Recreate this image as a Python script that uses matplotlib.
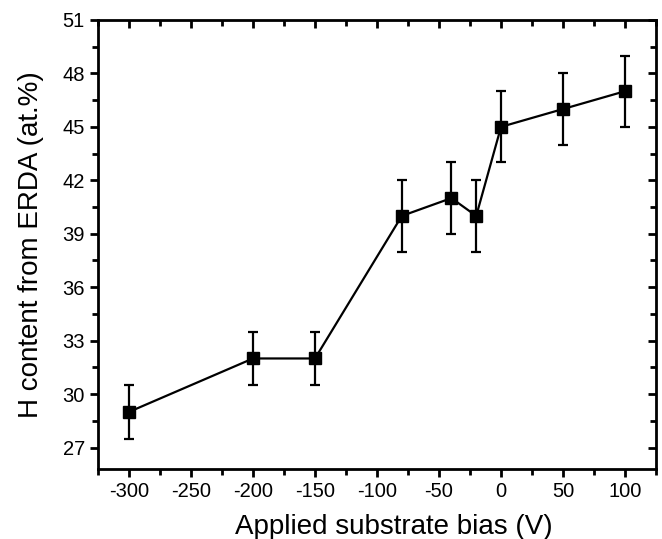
import matplotlib
matplotlib.use("Agg")
import matplotlib.pyplot as plt
from matplotlib.ticker import MultipleLocator

bias = [-300, -200, -150, -80, -40, -20, 0, 50, 100]
h_content = [29, 32, 32, 40, 41, 40, 45, 46, 47]
h_err = [1.5, 1.5, 1.5, 2, 2, 2, 2, 2, 2]

plt.rcParams['font.family'] = ['Liberation Sans', 'DejaVu Sans']
plt.rcParams['axes.unicode_minus'] = False

fig = plt.figure(figsize=(6.62, 5.39), dpi=100)
ax = fig.add_axes([0.148, 0.130, 0.843, 0.833])

ax.errorbar(bias, h_content, yerr=h_err, fmt='-s', color='black', ms=8.5,
            lw=1.6, elinewidth=1.6, capsize=3.5, capthick=1.6)

ax.set_xlim(-325, 125)
ax.set_ylim(25.8, 51)
ax.xaxis.set_major_locator(MultipleLocator(50))
ax.xaxis.set_minor_locator(MultipleLocator(25))
ax.yaxis.set_major_locator(MultipleLocator(3))
ax.yaxis.set_minor_locator(MultipleLocator(1.5))
ax.set_yticks([27, 30, 33, 36, 39, 42, 45, 48, 51])

for s in ax.spines.values():
    s.set_linewidth(2)

ax.tick_params(axis='both', which='both', direction='out', width=2, labelsize=14.5)
ax.tick_params(which='major', length=6)
ax.tick_params(which='minor', length=4)

ax2 = ax.secondary_xaxis('top')
ax2.xaxis.set_major_locator(MultipleLocator(50))
ax2.xaxis.set_minor_locator(MultipleLocator(25))
ax2.tick_params(which='both', direction='in', width=2, labeltop=False)
ax2.tick_params(which='major', length=6)
ax2.tick_params(which='minor', length=4)
ax2.set_xticklabels([])
ax3 = ax.secondary_yaxis('right')
ax3.yaxis.set_major_locator(MultipleLocator(3))
ax3.yaxis.set_minor_locator(MultipleLocator(1.5))
ax3.tick_params(which='both', direction='in', width=2)
ax3.tick_params(which='major', length=6)
ax3.tick_params(which='minor', length=4)
ax3.set_yticklabels([])

ax.set_xlabel('Applied substrate bias (V)', fontsize=20, labelpad=9)
ax.xaxis.label.set_x(0.531)
ax.set_ylabel('H content from ERDA (at.%)', fontsize=20, labelpad=13)

fig.savefig('out.png', dpi=100)
